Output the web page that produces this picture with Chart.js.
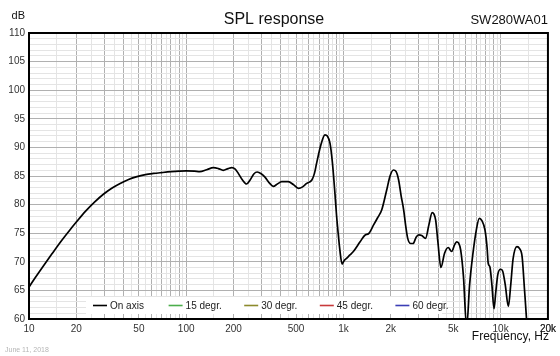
<!DOCTYPE html>
<html>
<head>
<meta charset="utf-8">
<script src="https://cdn.jsdelivr.net/npm/chart.js@4/dist/chart.umd.min.js"></script>
<style>
html,body{margin:0;padding:0;background:#fff;}
#wrap{position:relative;width:560px;height:356px;}
canvas{display:block;}
</style>
</head>
<body>
<div id="wrap"><canvas id="c" width="560" height="356"></canvas></div>
<script>
// ---- data ----
const freqs = [10, 11, 12.5, 14, 16, 18, 20, 23, 26, 30, 34, 38, 43, 48, 55, 62, 70, 80, 90, 100,
  113, 122, 135, 149, 160, 172, 185, 195, 205, 214, 228, 242, 255, 270, 283, 300, 317, 340, 358, 380,
  405, 446, 480, 518, 550, 584, 630, 655, 675, 720, 763, 790, 822, 850, 883, 905, 926, 950, 981, 1010,
  1047, 1100, 1157, 1277, 1376, 1444, 1553, 1650, 1752, 1887, 1980, 2081, 2160, 2245, 2330, 2418, 2490, 2565, 2680, 2778,
  2900, 3014, 3150, 3330, 3500, 3668, 3760, 3863, 3990, 4170, 4400, 4640, 4880, 5100, 5250, 5400, 5570, 5800, 6080, 6350,
  6650, 7000, 7316, 7600, 7950, 8200, 8341, 8550, 8800, 9080, 9300, 9600, 10000, 10300, 10700, 11200, 11600, 12000, 12700, 13200,
  13700, 14200, 14600, 15200];
const onAxis = [65.6, 67.3, 69.5, 71.4, 73.6, 75.4, 76.95, 78.9, 80.4, 81.9, 82.95, 83.7, 84.4, 84.85, 85.25, 85.45, 85.6, 85.75, 85.85, 85.9,
  85.85, 85.75, 86.1, 86.45, 86.3, 86.0, 86.3, 86.45, 86.2, 85.5, 84.3, 83.6, 84.3, 85.4, 85.7, 85.4, 84.8, 83.7, 83.2, 83.6,
  84.0, 84.0, 83.5, 82.85, 83.1, 83.7, 84.3, 85.5, 87.2, 90.5, 92.2, 92.0, 90.7, 87.5, 82.0, 78.0, 75.0, 72.0, 69.6, 70.2,
  70.6, 71.2, 71.8, 73.5, 74.7, 74.9, 76.4, 77.7, 79.05, 82.6, 85.0, 86.05, 85.8, 84.3, 81.5, 79.05, 76.3, 74.1, 73.2, 73.2,
  74.3, 74.7, 74.6, 74.1, 76.5, 78.6, 78.4, 77.3, 73.5, 69.0, 71.5, 72.5, 71.8, 73.0, 73.5, 73.3, 72.1, 67.5, 58.5, 66.0,
  71.2, 75.5, 77.6, 77.2, 75.6, 72.5, 69.7, 69.1, 66.0, 61.8, 64.5, 67.8, 68.7, 68.4, 66.0, 62.2, 66.0, 70.5, 72.65, 72.3,
  70.9, 65.0, 60.2, 52.0];
const seriesNames = ['On axis', '15 degr.', '30 degr.', '45 degr.', '60 degr.'];
const seriesColors = ['#000000', '#4cae4c', '#8c8a2c', '#c8393b', '#3b3db5'];
const xTickLabels = {10:'10', 20:'20', 50:'50', 100:'100', 200:'200', 500:'500', 1000:'1k', 2000:'2k', 5000:'5k', 10000:'10k', 20000:'20k'};
const yTickLabels = [60, 65, 70, 75, 80, 85, 90, 95, 100, 105, 110];
const titleText = 'SPL response';
const modelText = 'SW280WA01';
const yUnitText = 'dB';
const xTitleText = 'Frequency, Hz';
const dateText = 'June 11, 2018';

// ---- grid tick positions ----
const xGridVals = [];
for (let d = 10; d <= 10000; d *= 10) {
  for (let m = 1; m < 10; m += 0.5) {
    const v = Math.round(m * d * 1000) / 1000;
    if (v <= 20000) xGridVals.push(v);
  }
}
xGridVals.push(20000);
const yGridVals = [];
for (let v = 60; v <= 110; v++) yGridVals.push(v);

const FONT = 'Liberation Sans, Arial, Helvetica, sans-serif';
const MAJOR = '#b0b0b0';
const MINOR = '#e4e4e4';
function isMajorX(v) {
  const p = Math.pow(10, Math.floor(Math.log10(v) + 1e-9));
  const m = v / p;
  return Math.abs(m - Math.round(m)) < 1e-6;
}

const datasets = seriesNames.map((name, i) => ({
  label: name,
  data: i === 0 ? freqs.map((f, k) => ({x: f, y: onAxis[k]})) : [],
  borderColor: seriesColors[i],
  backgroundColor: seriesColors[i],
  borderWidth: 1.7,
  pointRadius: 0,
  cubicInterpolationMode: 'monotone',
  fill: false
}));

const decor = {
  id: 'decor',
  afterDatasetsDraw(chart) {
    const ctx = chart.ctx;
    const a = chart.chartArea;
    ctx.save();
    // legend background + items
    ctx.fillStyle = '#ffffff';
    ctx.fillRect(86, 297, 356, 17);
    ctx.font = '10px ' + FONT;
    ctx.textBaseline = 'middle';
    ctx.textAlign = 'left';
    chart.data.datasets.forEach((ds, i) => {
      const x0 = 93 + i * 75.6;
      const y0 = 305.5;
      ctx.strokeStyle = ds.borderColor;
      ctx.lineWidth = 1.6;
      ctx.beginPath();
      ctx.moveTo(x0, y0);
      ctx.lineTo(x0 + 14, y0);
      ctx.stroke();
      ctx.fillStyle = '#222';
      ctx.fillText(ds.label, x0 + 17, y0 + 0.5);
    });
    // frame
    ctx.strokeStyle = '#000';
    ctx.lineWidth = 2;
    ctx.strokeRect(a.left, a.top, a.right - a.left, a.bottom - a.top);
    ctx.restore();
  },
  afterDraw(chart) {
    const ctx = chart.ctx;
    ctx.save();
    ctx.fillStyle = '#111';
    ctx.textBaseline = 'alphabetic';
    ctx.font = '16px ' + FONT;
    ctx.textAlign = 'center';
    ctx.fillText(titleText, 274, 24);
    ctx.font = '13px ' + FONT;
    ctx.textAlign = 'right';
    ctx.fillText(modelText, 548, 24);
    ctx.font = '11px ' + FONT;
    ctx.fillText(yUnitText, 25, 19);
    ctx.font = '12px ' + FONT;
    ctx.fillText(xTitleText, 549, 340);
    ctx.font = '7px ' + FONT;
    ctx.textAlign = 'left';
    ctx.fillStyle = '#b5b5b5';
    ctx.fillText(dateText, 5, 352);
    ctx.restore();
  }
};

new Chart(document.getElementById('c'), {
  type: 'line',
  data: {datasets},
  plugins: [decor],
  options: {
    responsive: false,
    animation: false,
    devicePixelRatio: 1,
    layout: {padding: {top: 33, right: 12, left: 0, bottom: 0}},
    plugins: {legend: {display: false}, tooltip: {enabled: false}, title: {display: false}},
    scales: {
      x: {
        type: 'logarithmic',
        min: 10, max: 20000,
        afterBuildTicks: s => { s.ticks = xGridVals.map(v => ({value: v})); },
        afterFit: s => { s.height = 37; },
        ticks: {
          autoSkip: false, maxRotation: 0, minRotation: 0,
          padding: 4, color: '#333', font: {size: 10, family: FONT},
          callback: v => (xTickLabels[v] !== undefined ? xTickLabels[v] : '')
        },
        grid: {drawTicks: false, lineWidth: 1, color: c => (c.tick && isMajorX(c.tick.value) ? MAJOR : MINOR)},
        border: {color: '#000', width: 2}
      },
      y: {
        type: 'linear',
        min: 60, max: 110,
        afterBuildTicks: s => { s.ticks = yGridVals.map(v => ({value: v})); },
        afterFit: s => { s.width = 29; },
        ticks: {
          autoSkip: false, padding: 4, color: '#333', font: {size: 10, family: FONT},
          callback: v => (yTickLabels.includes(v) ? String(v) : '')
        },
        grid: {drawTicks: false, lineWidth: 1, color: c => (c.tick && c.tick.value % 5 === 0 ? MAJOR : MINOR)},
        border: {color: '#000', width: 2}
      }
    }
  }
});
</script>
</body>
</html>
